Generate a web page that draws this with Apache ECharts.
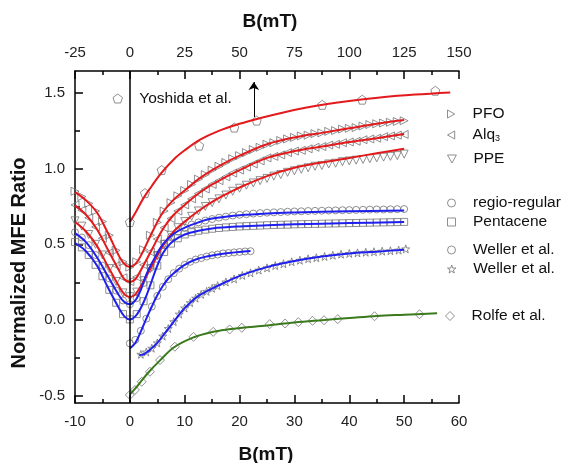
<!DOCTYPE html>
<html><head><meta charset="utf-8">
<script src="https://cdn.jsdelivr.net/npm/echarts@6/dist/echarts.min.js"></script>
<style>html,body{margin:0;padding:0;background:#fff}#c{width:563px;height:463px}</style>
</head><body><div id="c"></div>
<script>
// ---------- axis ticks ----------
const yMajor = [-0.5, 0, 0.5, 1.0, 1.5];
const yMinor = [-0.25, 0.25, 0.75, 1.25];

// ---------- data points (B in mT, bottom axis) ----------
const gridB = [-10,-8.75,-7.5,-6.25,-5,-3.75,-2.5,-1.25,0,1.25,2.5,3.75,5,6.25,7.5,8.75,10,11.25,12.5,13.75,15,16.25,17.5,18.75,20,21.25,22.5,23.75,25,26.25,27.5,28.75,30,31.25,32.5,33.75,35,36.25,37.5,38.75,40,41.25,42.5,43.75,45,46.25,47.5,48.75,50];
const pfoY = [.85,.815,.77,.72,.65,.56,.46,.385,.35,.385,.465,.56,.645,.72,.775,.82,.855,.895,.93,.96,.99,1.015,1.04,1.065,1.085,1.105,1.125,1.14,1.16,1.17,1.185,1.195,1.205,1.215,1.22,1.23,1.235,1.245,1.25,1.26,1.265,1.27,1.28,1.29,1.295,1.3,1.305,1.31,1.315];
const alqY = [.76,.725,.675,.615,.54,.445,.36,.28,.255,.285,.365,.45,.535,.61,.67,.72,.76,.8,.835,.865,.895,.92,.945,.97,.99,1.01,1.03,1.05,1.07,1.08,1.09,1.105,1.115,1.12,1.13,1.14,1.145,1.155,1.16,1.17,1.175,1.18,1.19,1.195,1.2,1.21,1.215,1.22,1.225];
const ppeY = [.655,.62,.565,.5,.43,.34,.255,.18,.155,.185,.26,.34,.425,.5,.56,.61,.65,.685,.72,.75,.775,.8,.825,.85,.87,.89,.905,.92,.935,.95,.96,.975,.985,.995,1.005,1.015,1.02,1.03,1.035,1.045,1.05,1.055,1.06,1.065,1.07,1.075,1.08,1.085,1.095];
const regioY = [.58,.545,.495,.43,.36,.275,.195,.13,.105,.145,.245,.345,.43,.505,.55,.585,.61,.63,.645,.657,.667,.676,.683,.69,.695,.699,.703,.706,.709,.711,.713,.715,.717,.718,.72,.721,.722,.723,.724,.725,.726,.727,.728,.729,.73,.73,.731,.732,.733];
const pentY = [.515,.48,.43,.365,.29,.2,.115,.04,.005,.04,.125,.23,.36,.45,.505,.54,.565,.58,.59,.597,.603,.608,.612,.615,.618,.62,.622,.624,.626,.628,.629,.63,.632,.633,.634,.635,.636,.637,.638,.639,.64,.641,.642,.643,.644,.645,.646,.647,.648];
const wellerCB = [0,1,2,3,4,5,6,7,8,9,10,11,12,13,14,15,16,17,18,19,20,21,22];
const wellerCY = [-.153,-.13,-.07,.01,.09,.16,.22,.27,.31,.34,.365,.385,.4,.41,.42,.428,.433,.44,.443,.447,.45,.453,.455];
const wellerSB = [2,3,4,5,6,7,8,9,10,11,12,13,14,15,16,17.5,19,20.5,22,23.5,25,26.5,28,29.5,31,32.5,34,35.5,37,38.5,40,41.5,43,44.5,46,47.5,49,50.3];
const wellerSY = [-.225,-.21,-.185,-.15,-.105,-.055,-.01,.04,.08,.115,.145,.17,.19,.21,.228,.252,.272,.295,.312,.33,.345,.36,.372,.385,.395,.405,.412,.42,.428,.435,.44,.444,.448,.451,.455,.458,.462,.47];
const rolfeB = [0,0.93,2.15,3.66,5.5,8.2,11.6,15.2,18.2,20.4,25.5,28.3,30.7,33.3,35.4,37.9,44.6,52.8];
const rolfeY = [-.493,-.46,-.406,-.34,-.263,-.175,-.11,-.077,-.061,-.05,-.026,-.022,-.013,-.004,0,.007,.026,.039];
// Yoshida data on the top axis scale
const yoshB = [0,6.9,14.5,31.6,47.6,57.8,87.7,105.9,139.2];
const yoshY = [.647,.838,.99,1.151,1.27,1.316,1.42,1.454,1.513];

// ---------- fitted curves ----------
const fitB3 = [-10,-8,-6,-4,-2,-1,0,1,2,4,6,8,10,12.5,15,17.5,20,25,30,35,40,45,50];
const pfoFit = [.844,.79,.71,.575,.425,.37,.351,.37,.425,.575,.71,.795,.855,.93,.99,1.04,1.085,1.16,1.205,1.235,1.265,1.295,1.32];
const alqFit = [.757,.695,.6,.465,.33,.27,.252,.27,.33,.465,.6,.695,.76,.835,.895,.945,.99,1.07,1.115,1.145,1.175,1.2,1.228];
const ppeFit = [.647,.585,.49,.355,.225,.17,.153,.17,.225,.355,.49,.585,.65,.72,.78,.83,.875,.95,1.005,1.04,1.07,1.1,1.13];
const regioFitB = [-10,-8,-6,-4,-2,-1,0,1,2,3,4,6,8,10,12.5,15,20,25,30,40,50];
const regioFit = [.574,.515,.415,.29,.165,.12,.105,.13,.2,.3,.375,.5,.57,.61,.645,.67,.692,.704,.71,.718,.724];
const pentFitB = [-10,-8,-6,-4,-2,-1,0,1,2,3,4,5,6,7,8,10,12.5,15,20,25,30,40,50];
const pentFit = [.509,.455,.36,.215,.08,.025,.005,.025,.08,.16,.26,.36,.44,.49,.525,.565,.59,.605,.618,.626,.632,.64,.647];
const wellerCFitB = [0,1,2,3,4,5,6,7,8,10,12,14,16,18,20,22];
const wellerCFit = [-.186,-.15,-.075,.01,.09,.165,.225,.275,.31,.365,.4,.42,.433,.443,.45,.456];
const wellerSFitB = [1.7,2.5,3.5,5,6.5,8,9.5,11,12.5,14.5,17.5,21,25,30,35,40,45,50];
const wellerSFit = [-.23,-.225,-.2,-.15,-.08,-.01,.06,.115,.16,.2,.252,.305,.35,.39,.42,.44,.452,.465];
const rolfeFitB = [0,1,2,3.5,5.5,8,11.5,15,18,20.5,25,30,35,40,45,50,56];
const rolfeFit = [-.49,-.45,-.405,-.34,-.265,-.18,-.115,-.078,-.06,-.05,-.035,-.015,0,.014,.028,.036,.045];
const yoshFitB = [0,3,6,10,14,20,25,32,40,50,60,70,80,90,100,115,130,146];
const yoshFit = [.647,.72,.8,.885,.965,1.06,1.12,1.19,1.245,1.295,1.335,1.37,1.4,1.425,1.445,1.47,1.488,1.502];

// arrow annotation (top-axis coordinates)
const arrowFrom = [56.5, 1.34];
const arrowTo = [56.5, 1.57];

const FONT = 'Arial, "Liberation Sans", sans-serif';
const RED = '#e3191c', BLUE = '#1f1fef', GREEN = '#3a7a1c', MK = '#747474';
const SYM = {
  right: 'path://M0,0L9,5L0,10Z',
  left: 'path://M9,0L0,5L9,10Z',
  down: 'path://M0,0L10,0L5,9Z',
  square: 'path://M0,0L10,0L10,10L0,10Z',
  diamond: 'path://M5,0L10,5L5,10L0,5Z',
  star: 'path://M5,0L6.2,3.6L10,3.6L7,5.9L8.1,9.5L5,7.3L1.9,9.5L3,5.9L0,3.6L3.8,3.6Z',
  pentagon: 'path://M5,0L10,3.7L8.1,9.5L1.9,9.5L0,3.7Z',
  circle: 'circle'
};
const pts = (xs, ys) => xs.map((x, i) => [x, ys[i]]);

function scatter(name, xs, ys, symbol, size, extra) {
  return Object.assign({
    name, type: 'scatter', data: pts(xs, ys), symbol, symbolSize: size,
    itemStyle: { color: 'rgba(255,255,255,0)', borderColor: MK, borderWidth: 1 },
    z: 2, silent: true
  }, extra || {});
}
function fit(name, xs, ys, color, extra) {
  return Object.assign({
    name, type: 'line', data: pts(xs, ys), showSymbol: false, smooth: 0.35,
    lineStyle: { color, width: 2 }, itemStyle: { color }, z: 3, silent: true
  }, extra || {});
}

const labelMap = {
  'Weller et al. (a)': 'Weller et al.',
  'Weller et al. (b)': 'Weller et al.'
};
function legendAt(name, left, cy, size) {
  return {
    data: [name], left, top: cy - 9, padding: 0, selectedMode: false,
    itemWidth: 33, itemHeight: size || 8, orient: 'vertical',
    itemStyle: { color: 'rgba(255,255,255,0)', borderColor: MK, borderWidth: 1 },
    textStyle: { fontSize: 15.5, color: '#111', fontFamily: FONT, lineHeight: 18,
      rich: { a: { fontSize: 15.5, fontFamily: FONT, color: '#111' }, s: { fontSize: 9, fontFamily: FONT, color: '#111', padding: [8, 0, 0, 0] } } },
    formatter: n => n === 'Alq3' ? '{a|Alq}{s|3}' : (labelMap[n] || n)
  };
}

const chart = echarts.init(document.getElementById('c'));
chart.setOption({
  animation: false,
  backgroundColor: '#fff',
  grid: { left: 75, top: 71, width: 384, height: 332 },
  xAxis: [
    { type: 'value', position: 'bottom', min: -10, max: 60, interval: 10,
      axisLine: { onZero: false, lineStyle: { color: '#000', width: 1.5 } },
      axisTick: { inside: true, length: 8, lineStyle: { color: '#000', width: 1.5 } },
      minorTick: { show: true, splitNumber: 2, length: 4, lineStyle: { color: '#000', width: 1.5 } },
      axisLabel: { fontSize: 15, margin: 11, color: '#222', fontFamily: FONT },
      splitLine: { show: false } },
    { type: 'value', position: 'top', min: -25, max: 150, interval: 25,
      axisLine: { onZero: false, lineStyle: { color: '#000', width: 1.5 } },
      axisTick: { inside: true, length: 8, lineStyle: { color: '#000', width: 1.5 } },
      minorTick: { show: true, splitNumber: 2, length: 4, lineStyle: { color: '#000', width: 1.5 } },
      axisLabel: { fontSize: 15, margin: 11, color: '#222', fontFamily: FONT },
      splitLine: { show: false } }
  ],
  yAxis: [
    { type: 'value', position: 'left', min: -0.546, max: 1.643,
      axisLine: { show: true, onZero: false, lineStyle: { color: '#000', width: 1.5 } },
      axisTick: { show: true, inside: true, length: 8, customValues: yMajor, lineStyle: { color: '#000', width: 1.5 } },
      axisLabel: { customValues: yMajor, formatter: v => v.toFixed(1), fontSize: 15, margin: 10, color: '#222', fontFamily: FONT },
      splitLine: { show: false } },
    { type: 'value', position: 'left', min: -0.546, max: 1.643,
      axisLine: { show: false, onZero: false },
      axisTick: { show: true, inside: true, length: 5, customValues: yMinor, lineStyle: { color: '#000', width: 1.5 } },
      axisLabel: { show: false },
      splitLine: { show: false } }
  ],
  legend: [
    legendAt('Yoshida et al.', 112.5, 98.5, 9),
    legendAt('PFO', 447, 114),
    legendAt('Alq3', 447, 135),
    legendAt('PPE', 447, 159),
    legendAt('regio-regular', 447, 203),
    legendAt('Pentacene', 447, 222),
    legendAt('Weller et al. (a)', 447, 250),
    legendAt('Weller et al. (b)', 447, 269),
    legendAt('Rolfe et al.', 445, 316, 9)
  ],
  graphic: [
    { type: 'text', x: 270, y: 22, style: { text: 'B(mT)', fontSize: 19, fontWeight: 'bold', fontFamily: FONT, fill: '#111', align: 'center', verticalAlign: 'middle' } },
    { type: 'text', x: 266, y: 455, style: { text: 'B(mT)', fontSize: 19, fontWeight: 'bold', fontFamily: FONT, fill: '#111', align: 'center', verticalAlign: 'middle' } },
    { type: 'text', x: 19, y: 263, rotation: Math.PI / 2, style: { text: 'Normalized MFE Ratio', fontSize: 20, fontWeight: 'bold', fontFamily: FONT, fill: '#111', align: 'center', verticalAlign: 'middle' } }
  ],
  series: [
    scatter('Yoshida et al.', yoshB, yoshY, SYM.pentagon, 9, { xAxisIndex: 1,
      markLine: { silent: true, symbol: ['none', 'arrow'], symbolSize: 8, label: { show: false },
        lineStyle: { color: '#000', width: 1, type: 'solid' },
        data: [[{ coord: arrowFrom }, { coord: arrowTo }]] } }),
    scatter('PFO', gridB, pfoY, SYM.right, 8, {
      markLine: { silent: true, symbol: 'none', label: { show: false },
        lineStyle: { color: '#000', width: 1.5, type: 'solid' }, data: [{ xAxis: 0 }] } }),
    scatter('Alq3', gridB, alqY, SYM.left, 8),
    scatter('PPE', gridB, ppeY, SYM.down, 8),
    scatter('regio-regular', gridB, regioY, SYM.circle, 7),
    scatter('Pentacene', gridB, pentY, SYM.square, 7),
    scatter('Weller et al. (a)', wellerCB, wellerCY, SYM.circle, 7),
    scatter('Weller et al. (b)', wellerSB, wellerSY, SYM.star, 8),
    scatter('Rolfe et al.', rolfeB, rolfeY, SYM.diamond, 9),
    fit('Yoshida fit', yoshFitB, yoshFit, RED, { xAxisIndex: 1 }),
    fit('PFO fit', fitB3, pfoFit, RED),
    fit('Alq3 fit', fitB3, alqFit, RED),
    fit('PPE fit', fitB3, ppeFit, RED),
    fit('regio fit', regioFitB, regioFit, BLUE),
    fit('Pentacene fit', pentFitB, pentFit, BLUE),
    fit('Weller a fit', wellerCFitB, wellerCFit, BLUE),
    fit('Weller b fit', wellerSFitB, wellerSFit, BLUE),
    fit('Rolfe fit', rolfeFitB, rolfeFit, GREEN)
  ]
});
</script></body></html>
